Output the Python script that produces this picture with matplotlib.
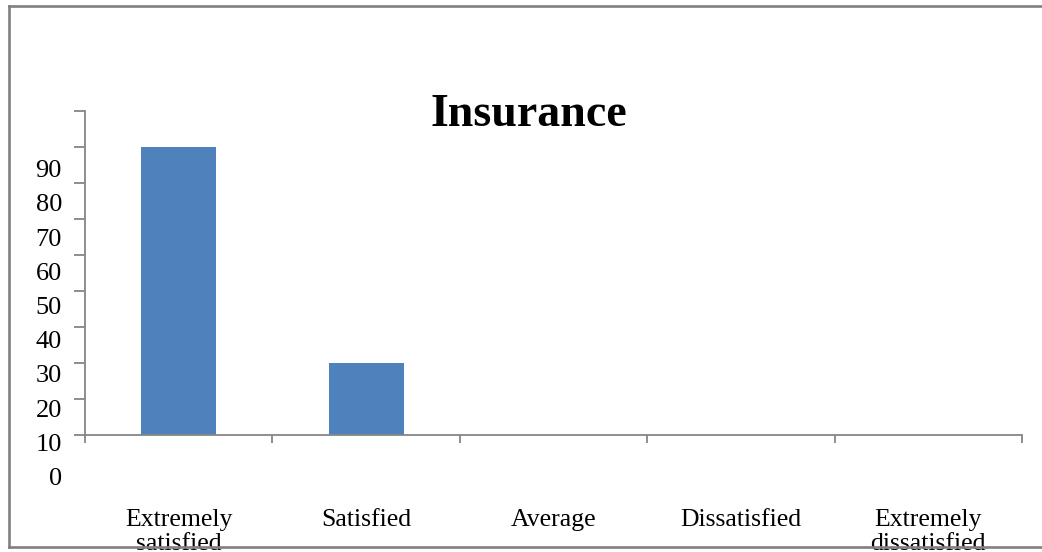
import matplotlib
matplotlib.use("Agg")
import matplotlib.pyplot as plt
from matplotlib.lines import Line2D

categories = ["Extremely\nsatisfied", "Satisfied", "Average", "Dissatisfied", "Extremely\ndissatisfied"]
values = [80, 20, 0, 0, 0]
y_tick_values = [0, 10, 20, 30, 40, 50, 60, 70, 80, 90]
y_tick_labels = ["0", "10", "20", "30", "40", "50", "60", "70", "80", "90"]
title = "Insurance"

W, H, DPI = 1042, 552, 100
fig = plt.figure(figsize=(W / DPI, H / DPI), dpi=DPI)
fig.patch.set_facecolor("white")

serif = ["Liberation Serif", "DejaVu Serif"]
axis_gray = "#868686"
bar_blue = "#4F81BD"

# plot area in pixel terms
left_px, right_px, bottom_px, top_px = 85, 1022, 435, 111
ax = fig.add_axes([left_px / W, 1 - bottom_px / H,
                   (right_px - left_px) / W, (bottom_px - top_px) / H])

x = [i + 0.5 for i in range(len(categories))]
ax.bar(x, values, width=0.4, color=bar_blue, zorder=2)

ax.set_xlim(0, len(categories))
ax.set_ylim(0, 90)

for s in ["top", "right"]:
    ax.spines[s].set_visible(False)
for s in ["left", "bottom"]:
    ax.spines[s].set_color(axis_gray)
    ax.spines[s].set_linewidth(1.3)

# category boundaries carry the tick marks, centres carry the labels
ax.set_xticks(range(len(categories) + 1))
ax.set_xticklabels([])
ax.set_xticks(x, minor=True)
ax.set_xticklabels(categories, minor=True, fontsize=18.5, fontfamily=serif,
                   linespacing=1.12, va="top")
ax.tick_params(axis="x", which="major", length=6, width=1.3, color=axis_gray, direction="out")
ax.tick_params(axis="x", which="minor", length=0, pad=53)

ax.set_yticks(y_tick_values)
ax.set_yticklabels([])
ax.tick_params(axis="y", length=8, width=1.3, color=axis_gray, direction="out")

# value labels for the y axis, set on their own column to the left
label_step = 34.2 / (bottom_px - top_px)
label_start = (bottom_px - 479.0) / (bottom_px - top_px)
for i, lab in enumerate(y_tick_labels):
    ax.text(-(left_px - 62) / (right_px - left_px), label_start + i * label_step, lab,
            transform=ax.transAxes, ha="right", va="center",
            fontsize=19, fontfamily=serif, color="black")

fig.text(529 / W, 1 - 115 / H, title, ha="center", va="center",
         fontsize=33, fontweight="bold", fontfamily=serif)

# frame around the chart
frame_kw = dict(color="#808080", linewidth=1.9, transform=fig.transFigure, zorder=10)
fx0, fy0, fy1 = 8.5 / W, 1 - 546.5 / H, 1 - 6 / H
fig.add_artist(Line2D([fx0, fx0], [fy0, fy1], **frame_kw))
fig.add_artist(Line2D([fx0, 1.0], [fy1, fy1], **frame_kw))
fig.add_artist(Line2D([fx0, 1.0], [fy0, fy0], **frame_kw))

fig.savefig("out.png", dpi=DPI, facecolor="white")
